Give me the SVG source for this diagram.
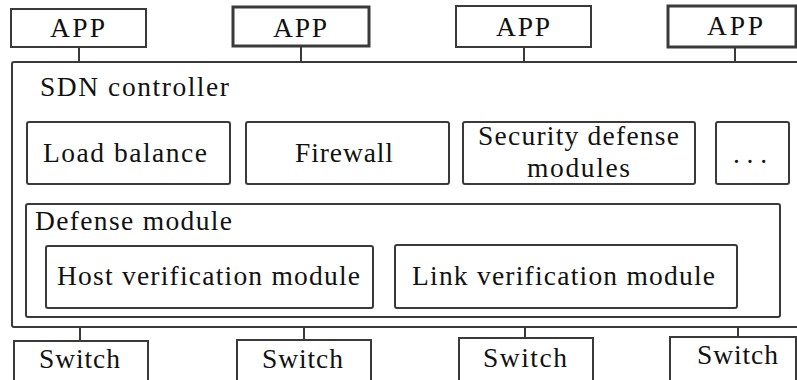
<svg xmlns="http://www.w3.org/2000/svg" width="797" height="380" viewBox="0 0 797 380">
  <style>
    .box { fill: #ffffff; stroke: #3a3a3a; stroke-width: 2; }
    .thick { stroke-width: 3; }
    .link { stroke: #3a3a3a; stroke-width: 2; fill: none; }
  </style>
  <rect width="797" height="380" fill="#ffffff"/>

  <!-- links between apps, controller and switches -->
  <g id="connectors">
    <line class="link" x1="79" y1="47" x2="79" y2="62"/>
    <line class="link" x1="301" y1="46" x2="301" y2="62"/>
    <line class="link" x1="524" y1="47" x2="524" y2="62"/>
    <line class="link" x1="735" y1="47" x2="735" y2="62"/>
    <line class="link" x1="80" y1="327" x2="80" y2="341"/>
    <line class="link" x1="304" y1="327" x2="304" y2="340"/>
    <line class="link" x1="525" y1="327" x2="525" y2="338"/>
    <line class="link" x1="738" y1="327" x2="738" y2="337"/>
  </g>

  <g font-family="Times New Roman, Liberation Serif, serif" font-size="27.5" fill="#111111">
  <!-- applications -->
  <g id="app1"><rect class="box" x="11" y="9" width="135" height="38"/><text x="50" y="37" textLength="55">APP</text></g>
  <g id="app2"><rect class="box thick" x="233" y="7" width="136" height="39"/><text x="273" y="37" textLength="54">APP</text></g>
  <g id="app3"><rect class="box" x="456" y="6" width="135" height="41"/><text x="496" y="36" textLength="54">APP</text></g>
  <g id="app4"><rect class="box thick" x="668" y="6" width="128" height="41"/><text x="707" y="35" textLength="56">APP</text></g>

  <!-- controller -->
  <g id="sdn-controller">
    <rect class="box" x="12" y="62" width="800" height="265" rx="2"/>
    <text x="40" y="96" textLength="189">SDN controller</text>
  </g>

  <g id="load-balance"><rect class="box" x="27" y="122" width="203" height="62" rx="2"/><text x="43" y="162" textLength="164">Load balance</text></g>
  <g id="firewall"><rect class="box" x="246" y="122" width="203" height="62" rx="2"/><text x="295" y="162" textLength="98">Firewall</text></g>
  <g id="security-defense"><rect class="box" x="463" y="122" width="232" height="62" rx="2"/>
    <text x="478" y="145" textLength="201">Security defense</text>
    <text x="527" y="177" textLength="103">modules</text></g>
  <g id="more"><rect class="box" x="716" y="122" width="73" height="62" rx="2"/><text x="733" y="163" textLength="34">. . .</text></g>

  <g id="defense-module">
    <rect class="box" x="26" y="204" width="754" height="113" rx="2"/>
    <text x="35" y="230" textLength="197">Defense module</text>
  </g>
  <g id="host-verification"><rect class="box" x="46" y="246" width="327" height="62" rx="2"/><text x="57" y="285" textLength="303">Host verification module</text></g>
  <g id="link-verification"><rect class="box" x="395" y="245" width="342" height="63" rx="2"/><text x="412" y="285" textLength="303">Link verification module</text></g>

  <!-- switches -->
  <g id="switch1"><rect class="box" x="14" y="341" width="134" height="45"/><text x="39" y="368" textLength="81">Switch</text></g>
  <g id="switch2"><rect class="box" x="237" y="340" width="134" height="46"/><text x="262" y="368" textLength="81">Switch</text></g>
  <g id="switch3"><rect class="box" x="459" y="338" width="134" height="48"/><text x="483" y="367" textLength="84">Switch</text></g>
  <g id="switch4"><rect class="box" x="670" y="337" width="126" height="49"/><text x="697" y="364" textLength="81">Switch</text></g>
  </g>
</svg>
